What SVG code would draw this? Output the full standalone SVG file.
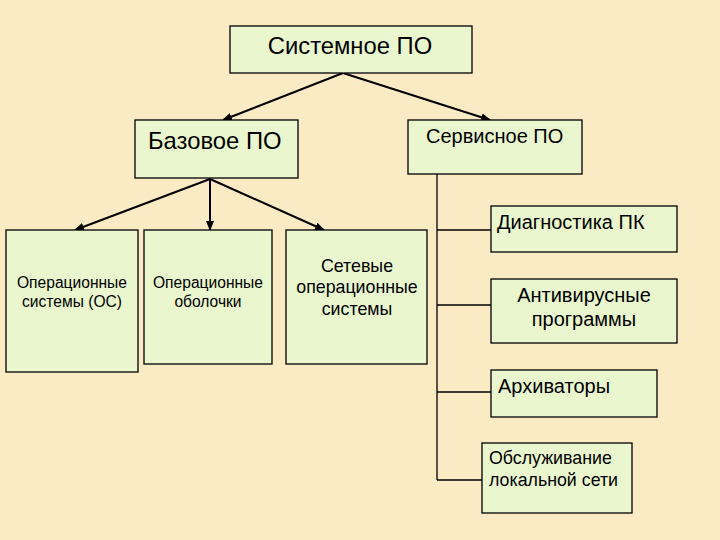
<svg xmlns="http://www.w3.org/2000/svg" width="720" height="540" viewBox="0 0 720 540">
<style>
.box{fill:#EAF7CE;stroke:#000;stroke-width:1.3}
text{font-family:"Liberation Sans",Arial,sans-serif;fill:#000}
.c{text-anchor:middle}
.ln{stroke:#000;stroke-width:1.3;fill:none}
.ar{stroke:#000;stroke-width:2;fill:none;marker-end:url(#ah)}
</style>
<defs>
<marker id="ah" markerWidth="10" markerHeight="8" refX="9" refY="4" orient="auto" markerUnits="userSpaceOnUse">
<path d="M0,0 L10,4 L0,8 Z" fill="#000"/>
</marker>
</defs>
<rect width="720" height="540" fill="#FAEBC5"/>
<g id="connectors">
<path class="ar" d="M343,73 L223,120"/>
<path class="ar" d="M343,73 L490,120"/>
<path class="ar" d="M210,179 L75,230"/>
<path class="ar" d="M210,179 L210,230"/>
<path class="ar" d="M210,179 L324,230"/>
<path class="ln" d="M437,174 L437,480"/>
<path class="ln" d="M437,230 L491,230"/>
<path class="ln" d="M437,305 L491,305"/>
<path class="ln" d="M437,392 L491,392"/>
<path class="ln" d="M437,480 L482,480"/>
</g>
<g id="sys">
<rect class="box" x="230" y="26" width="242" height="47"/>
<text class="c" x="350" y="54" font-size="23.8">Системное ПО</text>
</g>
<g id="base">
<rect class="box" x="135" y="120" width="163" height="58"/>
<text x="148" y="149" font-size="23.8">Базовое ПО</text>
</g>
<g id="service">
<rect class="box" x="408" y="120" width="174" height="54"/>
<text x="426" y="143" font-size="20">Сервисное ПО</text>
</g>
<g id="diag">
<rect class="box" x="491" y="206" width="186" height="46"/>
<text x="497" y="229" font-size="20">Диагностика ПК</text>
</g>
<g id="os">
<rect class="box" x="6" y="230" width="132" height="142"/>
<text class="c" x="72" y="288" font-size="15.6">Операционные</text>
<text class="c" x="72" y="307" font-size="15.6">системы (ОС)</text>
</g>
<g id="shells">
<rect class="box" x="144" y="230" width="128" height="134"/>
<text class="c" x="208" y="288" font-size="15.6">Операционные</text>
<text class="c" x="208" y="307" font-size="15.6">оболочки</text>
</g>
<g id="netos">
<rect class="box" x="286" y="230" width="141" height="134"/>
<text class="c" x="357" y="272" font-size="17.8">Сетевые</text>
<text class="c" x="357" y="293" font-size="17.8">операционные</text>
<text class="c" x="357" y="315" font-size="17.8">системы</text>
</g>
<g id="av">
<rect class="box" x="491" y="279" width="186" height="64"/>
<text class="c" x="584" y="302" font-size="20">Антивирусные</text>
<text class="c" x="584" y="326" font-size="20">программы</text>
</g>
<g id="arch">
<rect class="box" x="491" y="370" width="166" height="47"/>
<text x="498" y="393" font-size="20">Архиваторы</text>
</g>
<g id="lan">
<rect class="box" x="482" y="443" width="150" height="70"/>
<text x="489" y="464" font-size="17.8">Обслуживание</text>
<text x="489" y="486" font-size="17.8">локальной сети</text>
</g>
</svg>
